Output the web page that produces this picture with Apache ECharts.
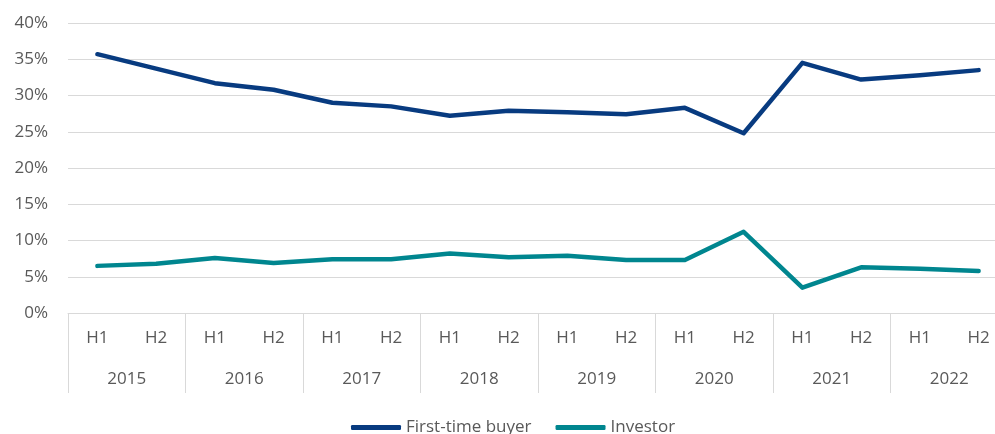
<!DOCTYPE html>
<html>
<head>
<meta charset="utf-8">
<title>First-time buyer vs Investor</title>
<script src="https://cdn.jsdelivr.net/npm/echarts@6/dist/echarts.min.js"></script>
<style>
  html, body { margin: 0; padding: 0; background: #fff; overflow: hidden; }
  /* plot runs a little past the right edge of the window, as in the source */
  #chart { width: 1008px; height: 434px; }
</style>
</head>
<body>
<div id="chart"></div>
<script>
// half-year categories, 2015 H1 .. 2022 H2
const halves = ['H1', 'H2', 'H1', 'H2', 'H1', 'H2', 'H1', 'H2',
                'H1', 'H2', 'H1', 'H2', 'H1', 'H2', 'H1', 'H2'];
const years = ['2015', '2016', '2017', '2018', '2019', '2020', '2021', '2022'];

// shares (fraction of all buyers)
const firstTimeBuyer = [0.357, 0.337, 0.317, 0.308, 0.290, 0.285, 0.272, 0.279,
                        0.277, 0.274, 0.283, 0.248, 0.345, 0.322, 0.328, 0.335];
const investor = [0.065, 0.068, 0.076, 0.069, 0.074, 0.074, 0.082, 0.077,
                  0.079, 0.073, 0.073, 0.112, 0.035, 0.063, 0.061, 0.058];

const textColor = '#595959';
const gridColor = '#d9d9d9';
const font = '"Open Sans", sans-serif';

const chart = echarts.init(document.getElementById('chart'));

chart.setOption({
  animation: false,
  textStyle: { fontFamily: font },
  grid: { left: 68, right: 0, top: 23, bottom: 121 },
  legend: {
    left: 346,
    top: 414,
    itemWidth: 50,
    itemHeight: 5,
    itemGap: 24,
    icon: 'roundRect',
    textStyle: { color: textColor, fontSize: 17, fontFamily: font },
    data: ['First-time buyer', 'Investor']
  },
  xAxis: [
    {
      type: 'category',
      data: halves,
      boundaryGap: true,
      axisLine: { lineStyle: { color: gridColor, width: 1 } },
      // separators only between years
      axisTick: {
        show: true,
        interval: (idx) => idx % 2 === 0,
        length: 80,
        lineStyle: { color: gridColor, width: 1 }
      },
      axisLabel: { interval: 0, margin: 17, color: textColor, fontSize: 17, fontFamily: font }
    },
    {
      type: 'category',
      data: years,
      position: 'bottom',
      boundaryGap: true,
      axisLine: { show: false },
      axisTick: { show: false },
      axisLabel: { interval: 0, margin: 58, color: textColor, fontSize: 17, fontFamily: font }
    }
  ],
  yAxis: {
    type: 'value',
    min: 0,
    max: 0.4,
    interval: 0.05,
    axisLine: { show: false },
    axisTick: { show: false },
    splitLine: { lineStyle: { color: gridColor, width: 1 } },
    axisLabel: {
      margin: 20,
      color: textColor,
      fontSize: 17,
      fontFamily: font,
      formatter: v => Math.round(v * 100) + '%'
    }
  },
  series: [
    {
      name: 'First-time buyer',
      type: 'line',
      xAxisIndex: 0,
      data: firstTimeBuyer,
      showSymbol: false,
      symbol: 'none',
      lineStyle: { color: '#083b80', width: 4.5, cap: 'round', join: 'round' },
      itemStyle: { color: '#083b80' }
    },
    {
      name: 'Investor',
      type: 'line',
      xAxisIndex: 0,
      data: investor,
      showSymbol: false,
      symbol: 'none',
      lineStyle: { color: '#00868f', width: 4.5, cap: 'round', join: 'round' },
      itemStyle: { color: '#00868f' }
    }
  ]
});
</script>
</body>
</html>
